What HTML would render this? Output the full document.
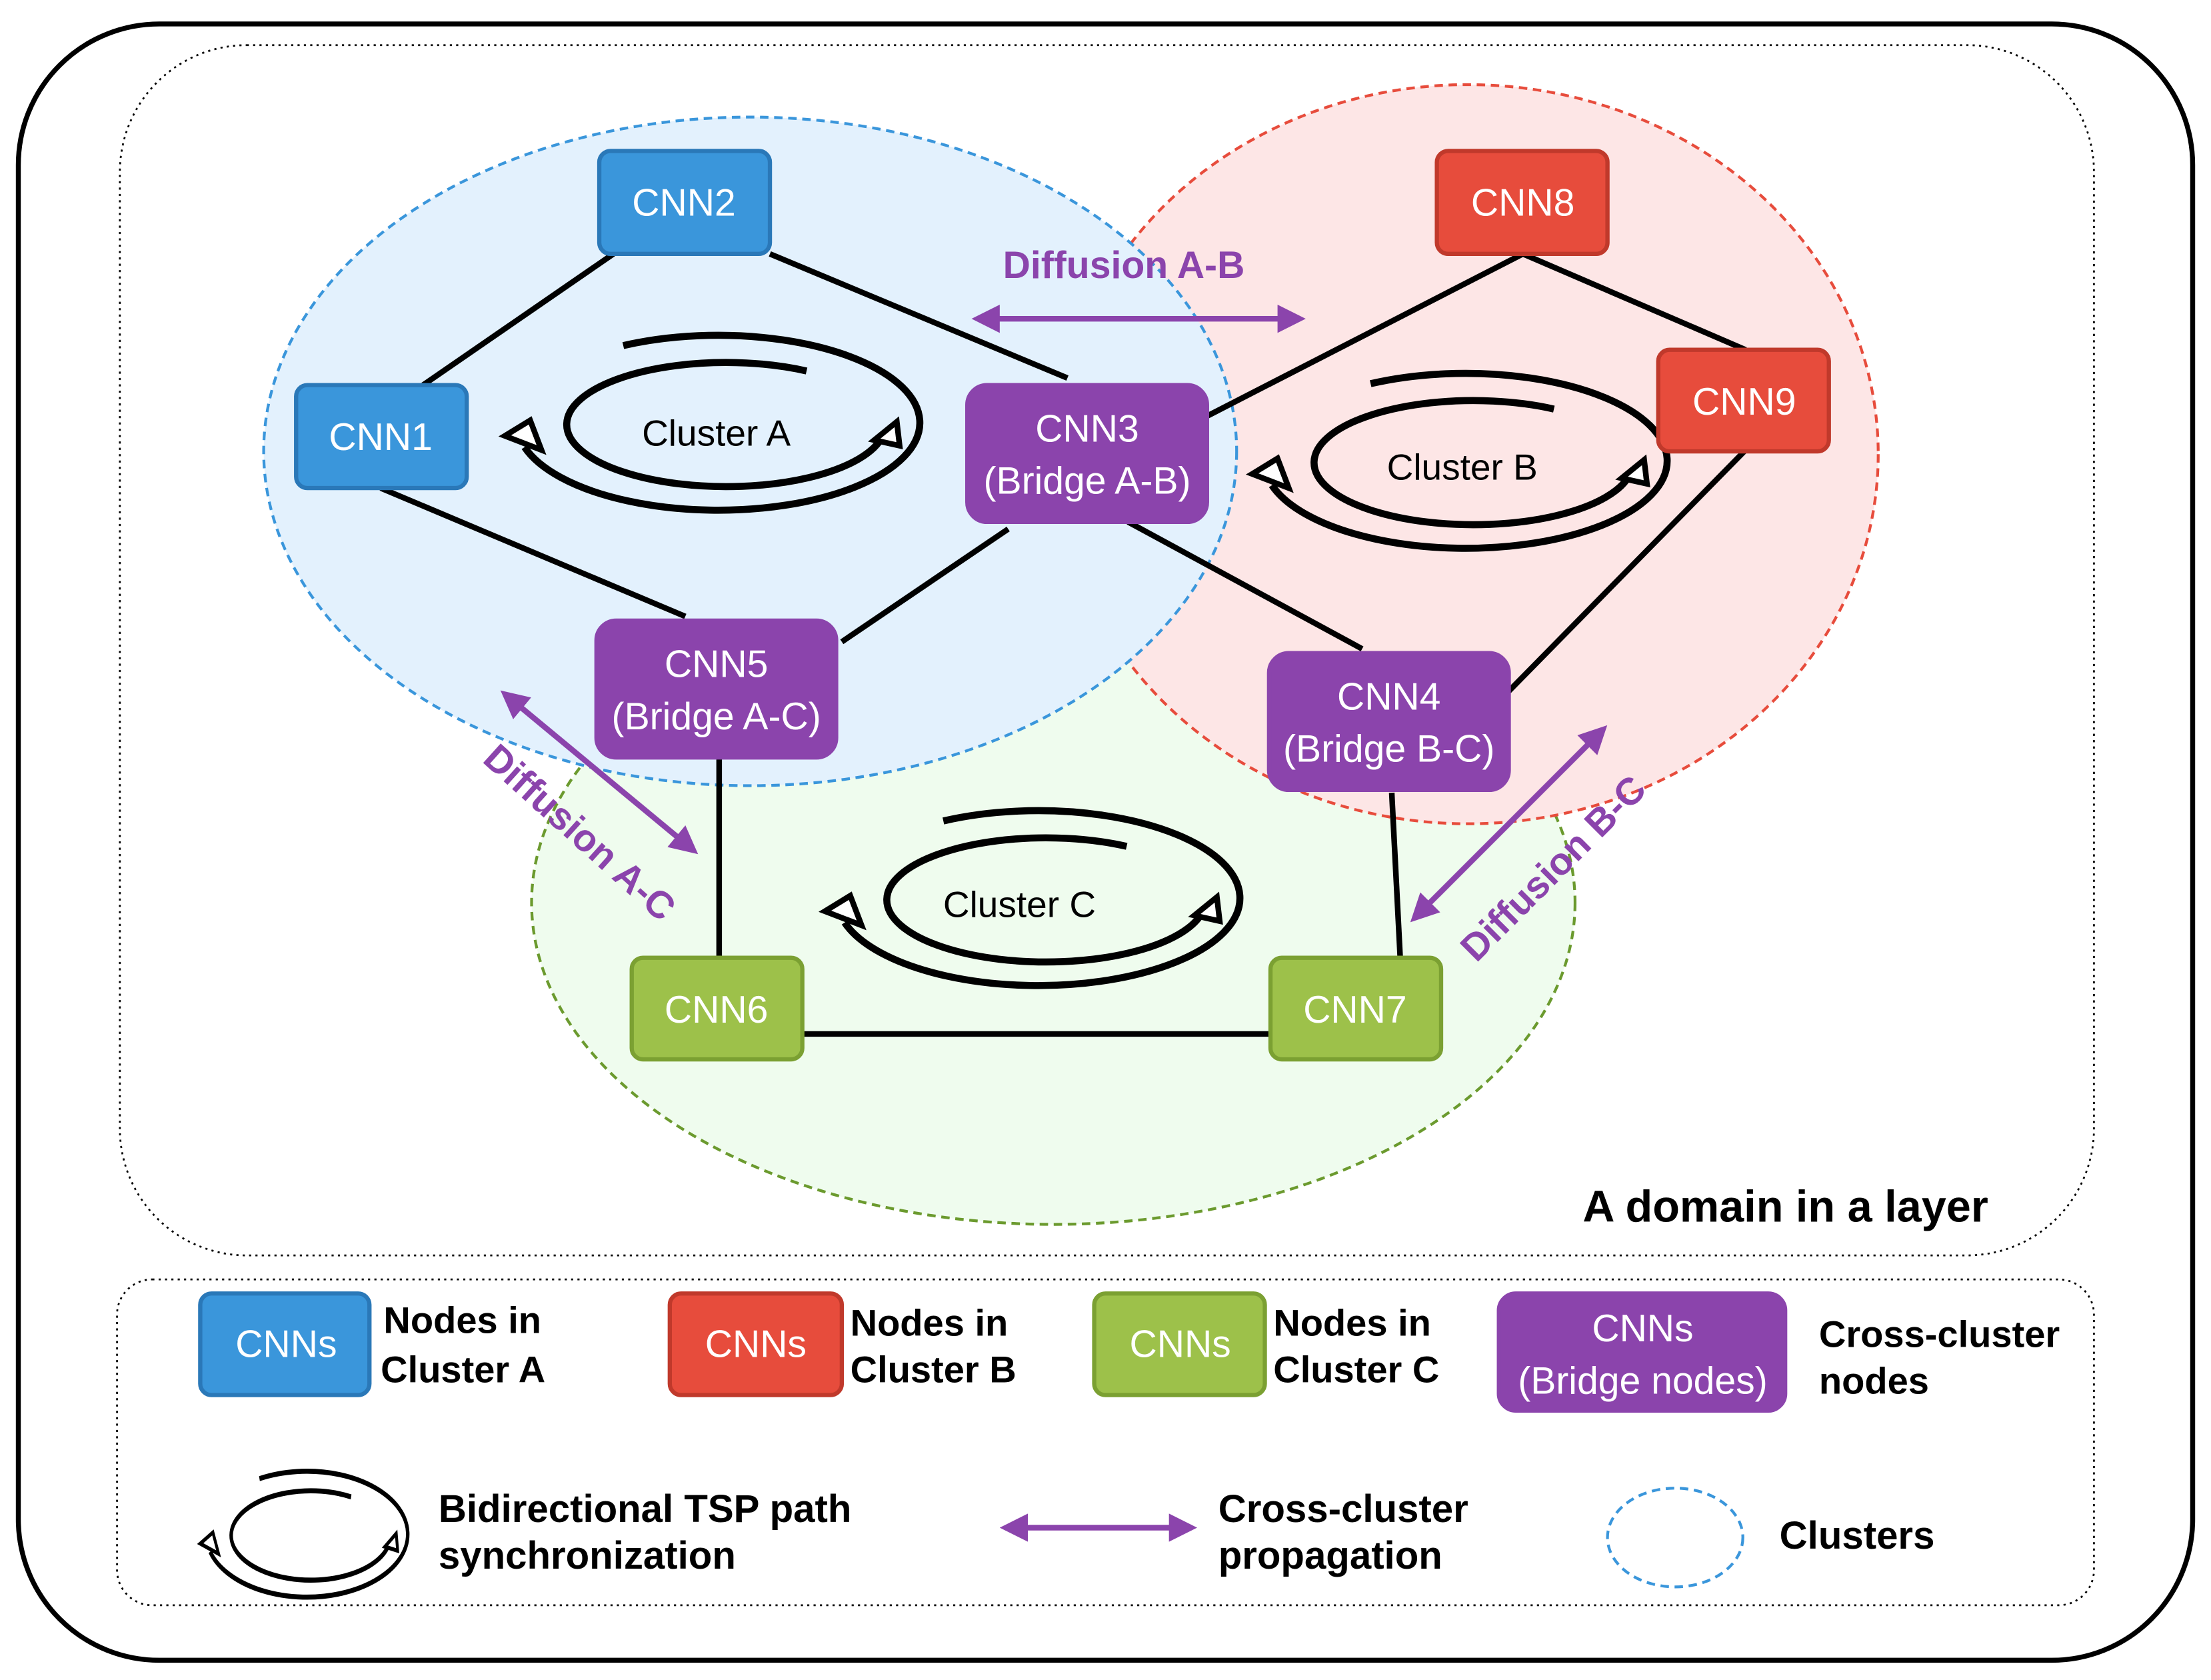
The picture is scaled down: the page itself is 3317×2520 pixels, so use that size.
<!DOCTYPE html>
<html><head><meta charset="utf-8"><style>html,body{margin:0;padding:0;background:#fff}svg{display:block}</style></head>
<body>
<svg width="3317" height="2520" viewBox="0 0 1568 1191" preserveAspectRatio="none" xmlns="http://www.w3.org/2000/svg" font-family="Liberation Sans, sans-serif">
<defs>
<marker id="pa" viewBox="0 0 10 10" refX="8" refY="5" markerWidth="5" markerHeight="5" orient="auto-start-reverse"><path d="M0,0 L10,5 L0,10 Z" fill="#8b44ac"/></marker>
<g id="cyc">
<path d="M-68,-58 A143,62 0 1 1 -138,14" fill="none" stroke="#000" stroke-width="5"/>
<path d="M-152,6 L-134,-5 L-126,16 Z" fill="#fff" stroke="#000" stroke-width="4"/>
<path d="M62,-40 A113,44 0 1 0 116,6" fill="none" stroke="#000" stroke-width="5"/>
<path d="M126,-4 L128,13 L110,9 Z" fill="#fff" stroke="#000" stroke-width="4"/>
</g>
</defs>
<rect x="13" y="17" width="1542" height="1160" rx="100" fill="#fff" stroke="#000" stroke-width="3.5"/>
<rect x="85" y="32" width="1400" height="858" rx="90" fill="none" stroke="#000" stroke-width="1.3" stroke-dasharray="1.5,3"/>
<rect x="83" y="907" width="1402" height="231" rx="25" fill="none" stroke="#000" stroke-width="1.3" stroke-dasharray="1.5,3"/>

<ellipse cx="747" cy="640" rx="370" ry="228" fill="#effcee" stroke="#6b9a2e" stroke-width="2" stroke-dasharray="6,4"/>
<ellipse cx="1041" cy="322" rx="291" ry="262" fill="#fde6e6" stroke="#e74c3c" stroke-width="2" stroke-dasharray="6,4"/>
<ellipse cx="532" cy="320" rx="345" ry="237" fill="#e3f1fd" stroke="#3a96db" stroke-width="2" stroke-dasharray="6,4"/>

<g stroke="#000" stroke-width="4">
<line x1="435" y1="180" x2="300" y2="273"/><line x1="546" y1="180" x2="757" y2="268"/>
<line x1="856" y1="295" x2="1080" y2="180"/><line x1="1080" y1="180" x2="1238" y2="248"/>
<line x1="270" y1="346" x2="486" y2="437"/><line x1="715" y1="375" x2="597" y2="455"/>
<line x1="800" y1="370" x2="966" y2="460"/><line x1="1237" y1="320" x2="1070" y2="490"/>
<line x1="510" y1="538" x2="510" y2="679"/><line x1="987" y1="562" x2="993" y2="679"/>
<line x1="569" y1="733" x2="901" y2="733"/>
</g>

<use href="#cyc" x="510" y="303"/>
<use href="#cyc" x="1040" y="330"/>
<use href="#cyc" x="737" y="640"/>
<g font-size="26" text-anchor="middle">
<text x="508" y="316">Cluster A</text><text x="1037" y="340">Cluster B</text><text x="723" y="650">Cluster C</text>
</g>

<g stroke-width="3">
<rect x="425" y="107" width="121" height="73" rx="8" fill="#3a96db" stroke="#2a78b8"/>
<rect x="210" y="273" width="121" height="73" rx="8" fill="#3a96db" stroke="#2a78b8"/>
<rect x="686" y="273" width="170" height="97" rx="14" fill="#8b44ac" stroke="#8b44ac"/>
<rect x="423" y="440" width="170" height="97" rx="14" fill="#8b44ac" stroke="#8b44ac"/>
<rect x="1019" y="107" width="121" height="73" rx="8" fill="#e74c3c" stroke="#c0392b"/>
<rect x="1176" y="248" width="121" height="72" rx="8" fill="#e74c3c" stroke="#c0392b"/>
<rect x="900" y="463" width="170" height="97" rx="14" fill="#8b44ac" stroke="#8b44ac"/>
<rect x="448" y="679" width="121" height="72" rx="8" fill="#9dc14a" stroke="#7ba032"/>
<rect x="901" y="679" width="121" height="72" rx="8" fill="#9dc14a" stroke="#7ba032"/>
</g>
<g fill="#fff" font-size="27" text-anchor="middle">
<text x="485" y="153">CNN2</text><text x="270" y="319">CNN1</text>
<text x="771" y="313">CNN3</text><text x="771" y="350">(Bridge A-B)</text>
<text x="508" y="480">CNN5</text><text x="508" y="517">(Bridge A-C)</text>
<text x="1080" y="153">CNN8</text><text x="1237" y="294">CNN9</text>
<text x="985" y="503">CNN4</text><text x="985" y="540">(Bridge B-C)</text>
<text x="508" y="725">CNN6</text><text x="961" y="725">CNN7</text>
</g>

<g stroke="#8b44ac" stroke-width="4" marker-start="url(#pa)" marker-end="url(#pa)">
<line x1="693" y1="226" x2="922" y2="226"/>
<line x1="358" y1="492" x2="492" y2="603"/>
<line x1="1137" y1="517" x2="1003" y2="651"/>
<line x1="713" y1="1083" x2="845" y2="1083"/>
</g>
<g fill="#8b44ac" font-size="27" font-weight="bold" text-anchor="middle">
<text x="797" y="197">Diffusion A-B</text>
<text transform="translate(405,597) rotate(42)">Diffusion A-C</text>
<text transform="translate(1108,622) rotate(-45)">Diffusion B-C</text>
</g>
<text x="1410" y="866" font-size="31.5" font-weight="bold" text-anchor="end">A domain in a layer</text>

<g stroke-width="3">
<rect x="142" y="917" width="120" height="72" rx="8" fill="#3a96db" stroke="#2a78b8"/>
<rect x="475" y="917" width="122" height="72" rx="8" fill="#e74c3c" stroke="#c0392b"/>
<rect x="776" y="917" width="121" height="72" rx="8" fill="#9dc14a" stroke="#7ba032"/>
<rect x="1063" y="917" width="203" height="83" rx="12" fill="#8b44ac" stroke="#8b44ac"/>
</g>
<g fill="#fff" font-size="27" text-anchor="middle">
<text x="203" y="962">CNNs</text><text x="536" y="962">CNNs</text><text x="837" y="962">CNNs</text>
<text x="1165" y="951">CNNs</text><text x="1165" y="988">(Bridge nodes)</text>
</g>
<g font-size="26.5" font-weight="bold">
<text x="272" y="945">Nodes in</text><text x="270" y="980">Cluster A</text>
<text x="603" y="947">Nodes in</text><text x="603" y="980">Cluster B</text>
<text x="903" y="947">Nodes in</text><text x="903" y="980">Cluster C</text>
<text x="1290" y="955">Cross-cluster</text><text x="1290" y="988">nodes</text>
<text x="311" y="1079" font-size="27.5">Bidirectional TSP path</text><text x="311" y="1112" font-size="27.5">synchronization</text>
<text x="864" y="1079" font-size="27.5">Cross-cluster</text><text x="864" y="1112" font-size="27.5">propagation</text>
<text x="1262" y="1098" font-size="27.5">Clusters</text>
</g>
<use href="#cyc" transform="translate(218,1090) scale(0.5,0.72)"/>
<ellipse cx="1188" cy="1090" rx="48" ry="35" fill="none" stroke="#3a96db" stroke-width="2" stroke-dasharray="6,4"/>
</svg>
</body></html>
